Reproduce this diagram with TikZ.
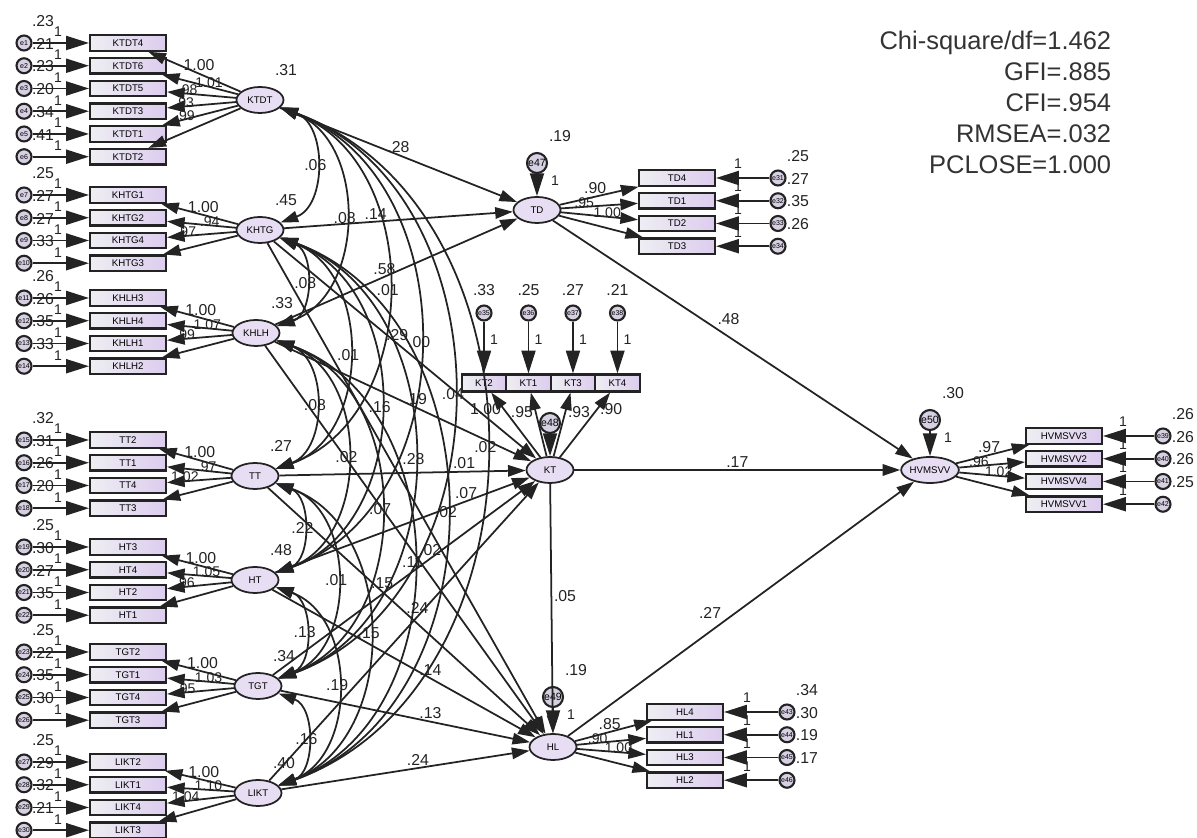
\documentclass[tikz,border=0pt]{standalone}
\usepackage{fontspec}
\setmainfont{Liberation Sans}
\usetikzlibrary{positioning, shapes.geometric, arrows.meta}

\definecolor{latfill}{RGB}{232,222,244}
\definecolor{boxleft}{RGB}{238,238,242}
\definecolor{boxright}{RGB}{220,204,238}
\definecolor{errfill}{RGB}{214,208,226}
\definecolor{ink}{RGB}{35,35,35}

\tikzset{
  latent/.style={ellipse, draw=ink, line width=1pt, fill=latfill, minimum width=0.94cm, minimum height=0.52cm, inner sep=0pt, font=\fontsize{5.5}{6}\selectfont},
  ind/.style={rectangle, draw=ink, line width=1.2pt, left color=boxleft, right color=boxright, minimum width=1.52cm, minimum height=0.31cm, inner sep=0pt, font=\fontsize{5.5}{6}\selectfont},
  ktbox/.style={ind, minimum width=0.89cm, minimum height=0.34cm},
  err/.style={circle, draw=ink, line width=1.2pt, fill=errfill, minimum size=0.3cm, inner sep=0pt, font=\fontsize{4}{4}\selectfont},
  res/.style={err, minimum size=0.4cm, font=\fontsize{6}{6}\selectfont},
  lbl/.style={font=\fontsize{9}{10}\selectfont, text=ink, inner sep=1pt},
  sub/.style={lbl, font=\fontsize{8}{9}\selectfont, yshift=-2pt},
  one/.style={font=\fontsize{8}{9}\selectfont, text=ink, inner sep=0pt},
  gof/.style={align=right, font=\fontsize{14.5}{17.6}\selectfont, text=black!80, inner sep=0pt},
  errarr/.style={-{Triangle[length=13pt,width=8pt]}},
  lv/.style={label={[lbl,xshift=0.52cm,yshift=0.6cm]center:#1}},
  evl/.style={label={[lbl,xshift=0.38cm,yshift=0.44cm]center:#1}, label={[one,xshift=0.68cm,yshift=0.22cm]center:1}},
  evr/.style={label={[lbl,xshift=0.4cm,yshift=0.44cm]center:#1}, label={[one,xshift=-0.8cm,yshift=0.28cm]center:1}},
  evt/.style={label={[lbl,yshift=0.46cm]center:#1}, label={[one,xshift=0.2cm,yshift=-0.54cm]center:1}},
  rv/.style={label={[lbl,xshift=0.46cm,yshift=0.54cm]center:#1}, label={[one,xshift=0.36cm,yshift=-0.36cm]center:1}},
}

\begin{document}
\begin{tikzpicture}[x=0.02cm, y=0.02cm, node distance=0.455cm, on grid, >={Triangle[length=10pt,width=6.5pt]}, line width=1pt, every edge/.style={draw=ink}]
\useasboundingbox (0,0) rectangle (1197,838);

% latent variables
\node[latent, lv=.31] (ktdt) at (260,738) {KTDT};
\node[latent, lv=.45] (khtg) at (260,608) {KHTG};
\node[latent, lv=.33] (khlh) at (256,505) {KHLH};
\node[latent, lv=.27] (tt) at (255,362) {TT};
\node[latent, lv=.48] (ht) at (255,258) {HT};
\node[latent, lv=.34] (tgt) at (258,152) {TGT};
\node[latent, lv=.40] (likt) at (258,45) {LIKT};
\node[latent] (td) at (537,628) {TD};
\node[latent] (kt) at (550,368) {KT};
\node[latent] (hv) at (930,368) {HVMSVV};
\node[latent] (hl) at (553,91) {HL};

% residuals
\node[res, rv=.19] (e47) [above=0.94cm of td] {e47};
\node[res] (e48) [above=0.94cm of kt] {e48};
\node[res, rv=.30] (e50) [above=1cm of hv] {e50};
\node[res, rv=.19] (e49) [above=1cm of hl] {e49};

% KTDT block
\node[ind] (ktdt4) at (128,795) {KTDT4};
\node[ind] (ktdt6) [below=of ktdt4] {KTDT6};
\node[ind] (ktdt5) [below=of ktdt6] {KTDT5};
\node[ind] (ktdt3) [below=of ktdt5] {KTDT3};
\node[ind] (ktdt1) [below=of ktdt3] {KTDT1};
\node[ind] (ktdt2) [below=of ktdt1] {KTDT2};
\node[err, evl=.23] (e1) [left=2.08cm of ktdt4] {e1};
\node[err, evl=.21] (e2) [left=2.08cm of ktdt6] {e2};
\node[err, evl=.23] (e3) [left=2.08cm of ktdt5] {e3};
\node[err, evl=.20] (e4) [left=2.08cm of ktdt3] {e4};
\node[err, evl=.34] (e5) [left=2.08cm of ktdt1] {e5};
\node[err, evl=.41] (e6) [left=2.08cm of ktdt2] {e6};

% KHTG block
\node[ind] (khtg1) at (128,643) {KHTG1};
\node[ind] (khtg2) [below=of khtg1] {KHTG2};
\node[ind] (khtg4) [below=of khtg2] {KHTG4};
\node[ind] (khtg3) [below=of khtg4] {KHTG3};
\node[err, evl=.25] (e7) [left=2.08cm of khtg1] {e7};
\node[err, evl=.27] (e8) [left=2.08cm of khtg2] {e8};
\node[err, evl=.27] (e9) [left=2.08cm of khtg4] {e9};
\node[err, evl=.33] (e10) [left=2.08cm of khtg3] {e10};

% KHLH block
\node[ind] (khlh3) at (128,540) {KHLH3};
\node[ind] (khlh4) [below=of khlh3] {KHLH4};
\node[ind] (khlh1) [below=of khlh4] {KHLH1};
\node[ind] (khlh2) [below=of khlh1] {KHLH2};
\node[err, evl=.26] (e11) [left=2.08cm of khlh3] {e11};
\node[err, evl=.26] (e12) [left=2.08cm of khlh4] {e12};
\node[err, evl=.35] (e13) [left=2.08cm of khlh1] {e13};
\node[err, evl=.33] (e14) [left=2.08cm of khlh2] {e14};

% TT block
\node[ind] (tt2) at (128,398) {TT2};
\node[ind] (tt1) [below=of tt2] {TT1};
\node[ind] (tt4) [below=of tt1] {TT4};
\node[ind] (tt3) [below=of tt4] {TT3};
\node[err, evl=.32] (e15) [left=2.08cm of tt2] {e15};
\node[err, evl=.31] (e16) [left=2.08cm of tt1] {e16};
\node[err, evl=.26] (e17) [left=2.08cm of tt4] {e17};
\node[err, evl=.20] (e18) [left=2.08cm of tt3] {e18};

% HT block
\node[ind] (ht3) at (128,291) {HT3};
\node[ind] (ht4) [below=of ht3] {HT4};
\node[ind] (ht2) [below=of ht4] {HT2};
\node[ind] (ht1) [below=of ht2] {HT1};
\node[err, evl=.25] (e19) [left=2.08cm of ht3] {e19};
\node[err, evl=.30] (e20) [left=2.08cm of ht4] {e20};
\node[err, evl=.27] (e21) [left=2.08cm of ht2] {e21};
\node[err, evl=.35] (e22) [left=2.08cm of ht1] {e22};

% TGT block
\node[ind] (tgt2) at (128,186) {TGT2};
\node[ind] (tgt1) [below=of tgt2] {TGT1};
\node[ind] (tgt4) [below=of tgt1] {TGT4};
\node[ind] (tgt3) [below=of tgt4] {TGT3};
\node[err, evl=.25] (e23) [left=2.08cm of tgt2] {e23};
\node[err, evl=.22] (e24) [left=2.08cm of tgt1] {e24};
\node[err, evl=.35] (e25) [left=2.08cm of tgt4] {e25};
\node[err, evl=.30] (e26) [left=2.08cm of tgt3] {e26};

% LIKT block
\node[ind] (likt2) at (128,76) {LIKT2};
\node[ind] (likt1) [below=of likt2] {LIKT1};
\node[ind] (likt4) [below=of likt1] {LIKT4};
\node[ind] (likt3) [below=of likt4] {LIKT3};
\node[err, evl=.25] (e27) [left=2.08cm of likt2] {e27};
\node[err, evl=.29] (e28) [left=2.08cm of likt1] {e28};
\node[err, evl=.32] (e29) [left=2.08cm of likt4] {e29};
\node[err, evl=.21] (e30) [left=2.08cm of likt3] {e30};

% TD block
\node[ind] (td4) at (677,660) {TD4};
\node[ind] (td1) [below=of td4] {TD1};
\node[ind] (td2) [below=of td1] {TD2};
\node[ind] (td3) [below=of td2] {TD3};
\node[err, evr=.25] (e31) [right=2.02cm of td4] {e31};
\node[err, evr=.27] (e32) [right=2.02cm of td1] {e32};
\node[err, evr=.35] (e33) [right=2.02cm of td2] {e33};
\node[err, evr=.26] (e34) [right=2.02cm of td3] {e34};

% KT block
\node[ktbox] (kt2) at (484,455) {KT2};
\node[ktbox] (kt1) [right=0.89cm of kt2] {KT1};
\node[ktbox] (kt3) [right=0.89cm of kt1] {KT3};
\node[ktbox] (kt4) [right=0.89cm of kt3] {KT4};
\node[err, evt=.33] (e35) [above=1.4cm of kt2] {e35};
\node[err, evt=.25] (e36) [above=1.4cm of kt1] {e36};
\node[err, evt=.27] (e37) [above=1.4cm of kt3] {e37};
\node[err, evt=.21] (e38) [above=1.4cm of kt4] {e38};

% HVMSVV block
\node[ind] (hv3) at (1064,402) {HVMSVV3};
\node[ind] (hv2) [below=of hv3] {HVMSVV2};
\node[ind] (hv4) [below=of hv2] {HVMSVV4};
\node[ind] (hv1) [below=of hv4] {HVMSVV1};
\node[err, evr=.26] (e39) [right=1.98cm of hv3] {e39};
\node[err, evr=.26] (e40) [right=1.98cm of hv2] {e40};
\node[err, evr=.26] (e41) [right=1.98cm of hv4] {e41};
\node[err, evr=.25] (e42) [right=1.98cm of hv1] {e42};

% HL block
\node[ind] (hl4) at (685,126) {HL4};
\node[ind] (hl1) [below=of hl4] {HL1};
\node[ind] (hl3) [below=of hl1] {HL3};
\node[ind] (hl2) [below=of hl3] {HL2};
\node[err, evr=.34] (e43) [right=2.04cm of hl4] {e43};
\node[err, evr=.30] (e44) [right=2.04cm of hl1] {e44};
\node[err, evr=.19] (e45) [right=2.04cm of hl3] {e45};
\node[err, evr=.17] (e46) [right=2.04cm of hl2] {e46};

% fit indices
\node[gof, anchor=north east] (fit) at (1112,808) {Chi-square/df=1.462\\GFI=.885\\CFI=.954\\RMSEA=.032\\PCLOSE=1.000};

% error terms
\path[->, errarr]
  (e1) edge (ktdt4) (e2) edge (ktdt6) (e3) edge (ktdt5)
  (e4) edge (ktdt3) (e5) edge (ktdt1) (e6) edge (ktdt2)
  (e7) edge (khtg1) (e8) edge (khtg2) (e9) edge (khtg4) (e10) edge (khtg3)
  (e11) edge (khlh3) (e12) edge (khlh4) (e13) edge (khlh1) (e14) edge (khlh2)
  (e15) edge (tt2) (e16) edge (tt1) (e17) edge (tt4) (e18) edge (tt3)
  (e19) edge (ht3) (e20) edge (ht4) (e21) edge (ht2) (e22) edge (ht1)
  (e23) edge (tgt2) (e24) edge (tgt1) (e25) edge (tgt4) (e26) edge (tgt3)
  (e27) edge (likt2) (e28) edge (likt1) (e29) edge (likt4) (e30) edge (likt3)
  (e31) edge (td4) (e32) edge (td1) (e33) edge (td2) (e34) edge (td3)
  (e35) edge (kt2) (e36) edge (kt1) (e37) edge (kt3) (e38) edge (kt4)
  (e39) edge (hv3) (e40) edge (hv2) (e41) edge (hv4) (e42) edge (hv1)
  (e43) edge (hl4) (e44) edge (hl1) (e45) edge (hl3) (e46) edge (hl2);

\path[->, errarr]
  (e47) edge (td) (e48) edge (kt) (e50) edge (hv) (e49) edge (hl);

% loadings
\path[->]
  (ktdt) edge node[lbl, pos=.45, above] {1.00} (ktdt4)
  (ktdt) edge node[sub, pos=.38, above] {1.01} (ktdt6)
  (ktdt) edge node[sub, pos=.7, above] {.98} (ktdt5)
  (ktdt) edge node[sub, pos=.75, above] {.93} (ktdt3)
  (ktdt) edge node[sub, pos=.7, above] {.99} (ktdt1)
  (ktdt) edge (ktdt2)
  (khtg) edge node[lbl, pos=.45, above] {1.00} (khtg1)
  (khtg) edge node[sub, pos=.38, above] {.94} (khtg2)
  (khtg) edge node[sub, pos=.72, above] {.97} (khtg4)
  (khtg) edge (khtg3)
  (khlh) edge node[lbl, pos=.45, above] {1.00} (khlh3)
  (khlh) edge node[sub, pos=.38, above] {1.07} (khlh4)
  (khlh) edge node[sub, pos=.72, above] {.99} (khlh1)
  (khlh) edge (khlh2)
  (tt) edge node[lbl, pos=.45, above] {1.00} (tt2)
  (tt) edge node[sub, pos=.38, above] {.97} (tt1)
  (tt) edge node[sub, pos=.72, above] {1.02} (tt4)
  (tt) edge (tt3)
  (ht) edge node[lbl, pos=.45, above] {1.00} (ht3)
  (ht) edge node[sub, pos=.38, above] {1.05} (ht4)
  (ht) edge node[sub, pos=.72, above] {.96} (ht2)
  (ht) edge (ht1)
  (tgt) edge node[lbl, pos=.45, above] {1.00} (tgt2)
  (tgt) edge node[sub, pos=.38, above] {1.03} (tgt1)
  (tgt) edge node[sub, pos=.72, above] {.95} (tgt4)
  (tgt) edge (tgt3)
  (likt) edge node[lbl, pos=.45, above] {1.00} (likt2)
  (likt) edge node[sub, pos=.38, above] {1.10} (likt1)
  (likt) edge node[sub, pos=.72, above] {1.04} (likt4)
  (likt) edge (likt3)
  (td) edge node[lbl, pos=.45, above] {.90} (td4)
  (td) edge node[sub, pos=.3, above] {.95} (td1)
  (td) edge node[sub, pos=.6, above] {1.00} (td2)
  (td) edge (td3)
  (kt) edge node[lbl, pos=.75, left] {1.00} (kt2)
  (kt) edge node[lbl, pos=.7, left] {.95} (kt1)
  (kt) edge node[lbl, pos=.7, right] {.93} (kt3)
  (kt) edge node[lbl, pos=.75, right] {.90} (kt4)
  (hv) edge node[lbl, pos=.45, above] {.97} (hv3)
  (hv) edge node[sub, pos=.3, above] {.96} (hv2)
  (hv) edge node[sub, pos=.6, above] {1.02} (hv4)
  (hv) edge (hv1)
  (hl) edge node[lbl, pos=.45, above] {.85} (hl4)
  (hl) edge node[sub, pos=.3, above] {.90} (hl1)
  (hl) edge node[sub, pos=.6, above] {1.00} (hl3)
  (hl) edge (hl2);

% covariances
\path[<->, bend left=70, looseness=1.1]
  (ktdt) edge node[lbl] {.06} (khtg)
  (ktdt) edge node[lbl] {.08} (khlh)
  (ktdt) edge node[lbl] {.01} (tt)
  (ktdt) edge node[lbl] {.00} (ht)
  (ktdt) edge node[lbl] {.04} (tgt)
  (ktdt) edge node[lbl] {.02} (likt)
  (khtg) edge node[lbl] {.08} (khlh)
  (khtg) edge node[lbl] {.01} (tt)
  (khtg) edge node[lbl] {.16} (ht)
  (khtg) edge node[lbl] {.28} (tgt)
  (khtg) edge node[lbl] {.02} (likt)
  (khlh) edge node[lbl] {.08} (tt)
  (khlh) edge node[lbl] {.02} (ht)
  (khlh) edge node[lbl] {.07} (tgt)
  (khlh) edge node[lbl] {.11} (likt)
  (tt) edge node[lbl] {.22} (ht)
  (tt) edge node[lbl] {.01} (tgt)
  (tt) edge node[lbl] {.15} (likt)
  (ht) edge node[lbl] {.13} (tgt)
  (ht) edge node[lbl] {.19} (likt)
  (tgt) edge node[lbl] {.16} (likt);

% structural paths
\path[->]
  (ktdt) edge node[lbl, pos=.5, above] {.28} (td)
  (khtg) edge node[lbl, pos=.4, above] {.14} (td)
  (khlh) edge node[lbl, pos=.45, above] {.58} (td)
  (khtg) edge node[lbl, pos=.47, above] {.29} (kt)
  (khlh) edge node[lbl, pos=.55, above] {.19} (kt)
  (tt) edge node[lbl, pos=.75, above] {.01} (kt)
  (ht) edge node[lbl, pos=.75, above] {.07} (kt)
  (tgt) edge node[lbl, pos=.6, above] {.02} (kt)
  (likt) edge node[lbl, pos=.55, above] {.24} (kt)
  (khtg) edge (hl)
  (khlh) edge (hl)
  (tt) edge node[lbl, pos=.42, above] {.15} (hl)
  (ht) edge node[lbl, pos=.6, above] {.14} (hl)
  (tgt) edge node[lbl, pos=.6, above] {.13} (hl)
  (likt) edge node[lbl, pos=.55, above] {.24} (hl)
  (td) edge node[lbl, pos=.45, above right] {.48} (hv)
  (kt) edge node[lbl, pos=.5, above] {.17} (hv)
  (hl) edge node[lbl, pos=.45, above left] {.27} (hv)
  (kt) edge node[lbl, pos=.45, right] {.05} (hl);
\end{tikzpicture}
\end{document}
